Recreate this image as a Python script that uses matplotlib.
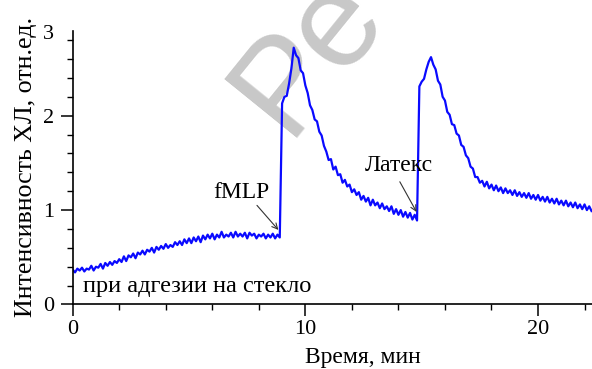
import numpy as np
import matplotlib
matplotlib.use("Agg")
import matplotlib.pyplot as plt
from matplotlib.ticker import MultipleLocator, FixedLocator
from matplotlib.transforms import blended_transform_factory

# Chemiluminescence trace, sampled every 0.1 min
SAMPLE_STEP = 0.1

# Adhesion to glass, 0.0 - 8.9 min
adhesion_start = 0.0
adhesion_trace = [
    0.37, 0.34, 0.38, 0.36, 0.39, 0.35, 0.38, 0.37, 0.41, 0.36,
    0.40, 0.39, 0.43, 0.38, 0.44, 0.41, 0.45, 0.42, 0.46, 0.44,
    0.48, 0.45, 0.51, 0.46, 0.52, 0.50, 0.54, 0.49, 0.55, 0.53,
    0.57, 0.53, 0.58, 0.56, 0.60, 0.55, 0.61, 0.58, 0.62, 0.59,
    0.64, 0.60, 0.63, 0.61, 0.66, 0.63, 0.67, 0.63, 0.69, 0.65,
    0.70, 0.65, 0.71, 0.67, 0.72, 0.66, 0.73, 0.69, 0.74, 0.70,
    0.75, 0.69, 0.74, 0.71, 0.77, 0.71, 0.74, 0.72, 0.76, 0.71,
    0.77, 0.72, 0.75, 0.72, 0.76, 0.70, 0.76, 0.73, 0.75, 0.70,
    0.74, 0.72, 0.75, 0.70, 0.74, 0.71, 0.75, 0.70, 0.74, 0.71,
]

# Response after fMLP, 9.0 - 14.8 min
fmlp_start = 9.0
fmlp_trace = [
    2.13, 2.20, 2.21, 2.34, 2.50, 2.72, 2.64, 2.61, 2.48, 2.45,
    2.32, 2.24, 2.11, 2.06, 1.96, 1.94, 1.83, 1.79, 1.68, 1.62,
    1.53, 1.54, 1.43, 1.46, 1.37, 1.38, 1.29, 1.32, 1.25, 1.27,
    1.19, 1.22, 1.16, 1.19, 1.11, 1.15, 1.09, 1.13, 1.05, 1.11,
    1.05, 1.08, 1.02, 1.07, 1.01, 1.04, 0.99, 1.04, 0.96, 1.01,
    0.95, 1.00, 0.93, 0.98, 0.92, 0.97, 0.90, 0.95, 0.89,
]

# Response after latex, 14.9 - 22.3 min
latex_start = 14.9
latex_trace = [
    2.31, 2.36, 2.39, 2.49, 2.57, 2.62, 2.54, 2.49, 2.37, 2.33,
    2.20, 2.16, 2.04, 2.01, 1.91, 1.90, 1.81, 1.79, 1.69, 1.67,
    1.58, 1.55, 1.46, 1.44, 1.35, 1.35, 1.29, 1.31, 1.25, 1.30,
    1.23, 1.27, 1.21, 1.26, 1.20, 1.24, 1.18, 1.23, 1.18, 1.21,
    1.16, 1.21, 1.15, 1.19, 1.14, 1.18, 1.13, 1.18, 1.12, 1.16,
    1.11, 1.16, 1.10, 1.14, 1.09, 1.14, 1.08, 1.12, 1.07, 1.12,
    1.06, 1.10, 1.05, 1.10, 1.04, 1.08, 1.03, 1.08, 1.02, 1.06,
    1.01, 1.06, 1.00, 1.04, 0.99,
]

x_major_ticks = [0, 10, 20]
y_major_ticks = [0, 1, 2]
y_top_label = "3"


def segment_times(start, values):
    return start + SAMPLE_STEP * np.arange(len(values))


time = np.concatenate([
    segment_times(adhesion_start, adhesion_trace),
    segment_times(fmlp_start, fmlp_trace),
    segment_times(latex_start, latex_trace),
])
signal = np.concatenate([adhesion_trace, fmlp_trace, latex_trace])

serif = ["Liberation Serif", "DejaVu Serif"]
plt.rcParams["font.family"] = serif

fig = plt.figure(figsize=(5.92, 3.69), dpi=100)
ax = fig.add_axes([0.1228, 0.1748, 0.8772, 0.742])
ax.patch.set_alpha(0)

# faint diagonal watermark behind the trace
ax.text(0.483, 0.628, "Ре", transform=fig.transFigure,
        fontsize=97, color="#c8c8c8", rotation=51,
        rotation_mode="anchor", ha="left", va="baseline",
        family=["Liberation Sans", "DejaVu Sans"], zorder=0.5, clip_on=False)

ax.plot(time, signal, color="#0a0aff", lw=1.6, zorder=2)

ax.set_xlim(0, 22.32)
ax.set_ylim(0, 2.9)

for side in ("top", "right"):
    ax.spines[side].set_visible(False)
for side in ("left", "bottom"):
    ax.spines[side].set_linewidth(1.2)

ax.xaxis.set_major_locator(FixedLocator(x_major_ticks))
ax.xaxis.set_minor_locator(MultipleLocator(2))
ax.yaxis.set_major_locator(FixedLocator(y_major_ticks))
ax.yaxis.set_minor_locator(MultipleLocator(0.2))

ax.tick_params(axis="both", which="major", direction="out", length=8.3,
               width=1.1, labelsize=16, pad=3)
ax.tick_params(axis="both", which="minor", direction="out", length=4.3,
               width=1.0)
ax.tick_params(axis="y", which="major", pad=5)

# label for the top of the intensity scale
ytrans = blended_transform_factory(ax.transAxes, ax.transData)
ax.text(-0.036, 2.86, y_top_label, transform=ytrans, ha="right",
        va="center", fontsize=16, clip_on=False)

ax.set_xlabel("Время, мин", fontsize=17)
ax.xaxis.set_label_coords(0.559, -0.155)
ax.set_ylabel("Интенсивность ХЛ, отн.ед.", fontsize=18.7)
ax.yaxis.set_label_coords(-0.069, 0.504)

ax.text(0.44, 0.13, "при адгезии на стекло", fontsize=17.6,
        ha="left", va="baseline")

arrow_style = dict(arrowstyle="->", color="#333333", lw=0.8,
                   shrinkA=0, shrinkB=0)
ax.text(7.26, 1.19, "fMLP", fontsize=17, ha="center", va="center")
ax.annotate("", xy=(8.84, 0.79), xytext=(7.92, 1.05),
            arrowprops=arrow_style)
ax.text(14.03, 1.47, "Латекс", fontsize=17, ha="center", va="center")
ax.annotate("", xy=(14.78, 0.98), xytext=(14.06, 1.30),
            arrowprops=arrow_style)

fig.savefig("out.png", dpi=100)
